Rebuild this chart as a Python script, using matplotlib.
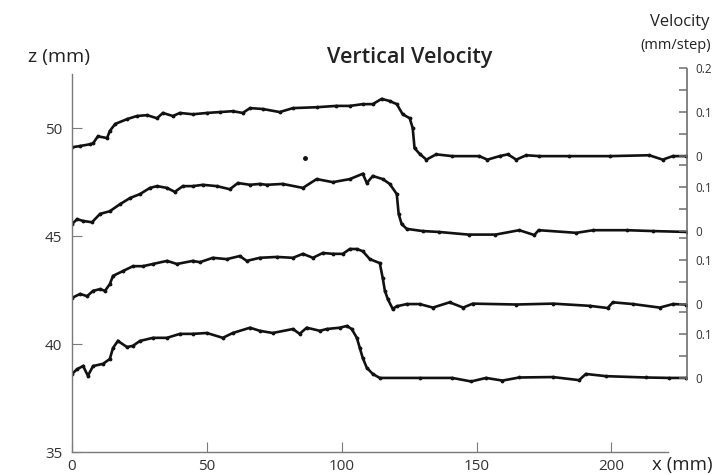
import numpy as np
import matplotlib
matplotlib.use("Agg")
import matplotlib.pyplot as plt

plt.rcParams['font.family'] = ['Open Sans', 'DejaVu Sans']

# ---- data: vertical velocity (mm/step) vs x (mm), one trace per height ----
levels = [48.70, 45.23, 41.85, 38.43]   # z (mm) of each trace's zero line
gain = 20.4                            # mm of z per mm/step of velocity

x1 = [0, 3, 6.7, 7.8, 9.6, 13, 14, 16, 20.4, 24, 27.8, 31.5, 33.7, 37.4, 40, 44.8,
      50, 54.8, 59.6, 63.3, 66, 70.7, 77, 81.9, 90.7, 98, 103, 107.8, 111.5, 114.8,
      117.8, 120.4, 122.6, 125.2, 126.3, 127, 128.9, 131.4, 135, 141, 151, 154,
      158.5, 161.6, 164.7, 168.4, 173.3, 184.4, 199.3, 214, 219, 222.7, 227.6]
v1 = [0.020, 0.023, 0.027, 0.029, 0.045, 0.041, 0.057, 0.073, 0.084, 0.091, 0.093,
      0.086, 0.098, 0.091, 0.098, 0.095, 0.098, 0.100, 0.102, 0.098, 0.109, 0.107,
      0.100, 0.109, 0.111, 0.114, 0.114, 0.118, 0.118, 0.130, 0.125, 0.118, 0.095,
      0.086, 0.064, 0.018, 0.005, -0.008, 0.004, 0.0, 0.0, -0.008, 0.0, 0.004,
      -0.008, 0.002, 0.0, 0.0, 0.0, 0.002, -0.008, 0.0, 0.0]

x2 = [0, 1.9, 4.1, 7.4, 10.4, 14, 17.8, 21.5, 25.2, 28.9, 31.5, 35.2, 38.1, 41.1,
      44.8, 48.5, 53.7, 58.5, 61.5, 66, 69.6, 72.2, 78.1, 85.6, 90.7, 96.7, 103,
      107.8, 109.3, 111.5, 115.2, 117.8, 120.4, 121.1, 122.2, 124.1, 130, 136, 147,
      157, 165.8, 171.4, 173, 187, 193.3, 205.6, 215.5, 228]
v2 = [0.016, 0.027, 0.023, 0.020, 0.039, 0.045, 0.061, 0.075, 0.084, 0.098, 0.102,
      0.098, 0.089, 0.102, 0.102, 0.105, 0.102, 0.095, 0.109, 0.105, 0.107, 0.105,
      0.107, 0.098, 0.118, 0.111, 0.118, 0.130, 0.109, 0.125, 0.118, 0.107, 0.084,
      0.039, 0.016, 0.005, 0.0, -0.002, -0.008, -0.008, 0.002, -0.009, 0.002,
      -0.004, 0.002, 0.002, 0.0, -0.002]

x3 = [0, 3, 5.6, 7.8, 10.4, 12.2, 14, 15.2, 18.9, 22.6, 26.3, 30, 35.2, 38.9, 44.8,
      47.4, 52.2, 57.4, 62.2, 64.8, 69.6, 76, 81.9, 85.6, 89.3, 93, 96.7, 100.4,
      103, 105.6, 107.8, 110.4, 114.1, 115.2, 116, 117.1, 118.9, 120.4, 124.1,
      128.9, 133.8, 140, 145, 148.6, 164.7, 178.3, 191.9, 198.6, 200.5, 208, 217.9,
      222.8, 227.8]
v3 = [0.014, 0.023, 0.018, 0.030, 0.034, 0.030, 0.045, 0.064, 0.075, 0.086, 0.086,
      0.091, 0.098, 0.091, 0.098, 0.095, 0.105, 0.102, 0.109, 0.098, 0.105, 0.107,
      0.105, 0.114, 0.105, 0.116, 0.114, 0.114, 0.125, 0.125, 0.120, 0.102, 0.093,
      0.059, 0.030, 0.011, -0.011, -0.005, 0.0, 0.0, -0.008, 0.004, -0.008, 0.001,
      -0.001, 0.001, -0.004, -0.009, 0.004, 0.0, -0.008, 0.0, -0.001]

x4 = [0, 1.9, 4.1, 5.9, 7.8, 11.5, 14, 15.2, 17, 20.4, 22.6, 25.2, 30, 35.2, 40,
      44.8, 50, 55.9, 59.6, 66, 69.6, 74.4, 81.9, 84.4, 87, 91.9, 94.4, 99.3, 101.9,
      103.7, 105.6, 106.7, 107.8, 109.3, 111.5, 114.1, 128.9, 141, 148, 153.5,
      159.6, 165.8, 178.3, 188, 190.5, 198, 212.8, 221.5, 227.8]
v4 = [0.009, 0.020, 0.027, 0.005, 0.027, 0.032, 0.043, 0.068, 0.084, 0.070, 0.073,
      0.084, 0.091, 0.091, 0.100, 0.100, 0.102, 0.091, 0.102, 0.114, 0.107, 0.102,
      0.111, 0.100, 0.114, 0.107, 0.111, 0.114, 0.118, 0.111, 0.091, 0.068, 0.045,
      0.023, 0.009, 0.0, 0.0, 0.0, -0.008, 0.0, -0.006, 0.001, 0.002, -0.005, 0.009,
      0.004, 0.001, 0.0, 0.0]

# a single stray sample of the top trace
stray_x = [86.3]
stray_v = [-0.004]

traces = [(x1, v1), (x2, v2), (x3, v3), (x4, v4)]

# ---- figure ----
fig = plt.figure(figsize=(7.18, 4.75), dpi=100, facecolor='white')
rect = [0.1003, 0.0484, 0.8565, 0.8116]
ax = fig.add_axes(rect)
ax.patch.set_visible(False)

for (xs, vs), z0 in zip(traces, levels):
    ax.plot(xs, z0 + gain * np.array(vs), color='#111111', lw=1.9,
            marker='.', ms=3.5, solid_joinstyle='miter')
ax.plot(stray_x, levels[0] + gain * np.array(stray_v), '.', color='#111111', ms=5)

ax.set_xlim(0, 228)
ax.set_ylim(35, 52.85)

axis_col = '#7a7a7a'
ax.spines['top'].set_visible(False)
ax.spines['right'].set_visible(False)
for s in ['left', 'bottom']:
    ax.spines[s].set_color(axis_col)
    ax.spines[s].set_linewidth(1.0)
ax.spines['left'].set_bounds(35, 52.5)
ax.spines['bottom'].set_bounds(0, 221)

ax.set_xticks([0, 50, 100, 150, 200])
ax.set_yticks([35, 40, 45, 50])
ax.tick_params(axis='both', direction='in', length=7, color=axis_col,
               labelsize=11, labelcolor='#333333')
ax.tick_params(axis='x', pad=5)
ax.tick_params(axis='y', pad=7)

# velocity axis on the right, one scale per trace (separate overlay axes)
ax2 = fig.add_axes(rect, label='velocity')
ax2.patch.set_visible(False)
ax2.set_xlim(ax.get_xlim())
ax2.set_ylim(ax.get_ylim())
ax2.xaxis.set_visible(False)
for s in ['top', 'left', 'bottom', 'right']:
    ax2.spines[s].set_visible(False)
ax2.yaxis.set_ticks_position('right')

major, labels, minor = [], [], []
for z0 in levels:
    major += [z0, z0 + 0.1 * gain]
    labels += ['0', '0.1']
    minor += [z0 + 0.05 * gain, z0 + 0.15 * gain]
major.append(levels[0] + 0.2 * gain)
labels.append('0.2')
ax2.set_yticks(major)
ax2.set_yticklabels(labels)
ax2.set_yticks(minor, minor=True)
ax2.tick_params(axis='y', which='both', direction='in', length=6, width=1.1,
                color='#6e6e6e', labelsize=8.5, labelcolor='#333333', pad=6,
                right=True, left=False, labelright=True, labelleft=False)

# the velocity axis line itself, at the right edge of the axes
ax2.plot([1, 1], [levels[-1] - 0.1, levels[0] + 0.2 * gain], color='#6e6e6e',
         lw=1.2, transform=ax2.get_yaxis_transform(), clip_on=False,
         solid_capstyle='butt', zorder=5)

fig.text(0.571, 0.880, 'Vertical Velocity', ha='center', va='center',
         fontsize=15.5, fontweight='semibold', color='#222222')
fig.text(0.039, 0.880, 'z (mm)', ha='left', va='center', fontsize=14, color='#222222')
fig.text(0.908, 0.021, 'x (mm)', ha='left', va='center', fontsize=13.5, color='#222222')
fig.text(0.905, 0.953, 'Velocity', ha='left', va='center', fontsize=12,
         color='#222222')
fig.text(0.892, 0.905, '(mm/step)', ha='left', va='center', fontsize=10.5, color='#222222')

fig.savefig('out.png', dpi=100, facecolor='white')
